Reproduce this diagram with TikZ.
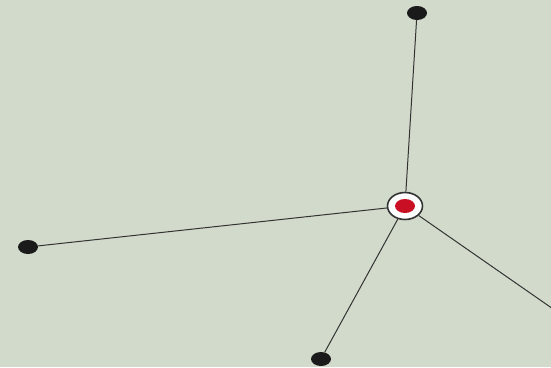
\documentclass[tikz,border=0pt]{standalone}
\usetikzlibrary{shapes.geometric}
\definecolor{bg}{HTML}{D2DBCB}
\definecolor{dotc}{HTML}{1A1A1A}
\definecolor{redc}{HTML}{C80F23}
\definecolor{linec}{HTML}{333333}
\begin{document}
\begin{tikzpicture}[x=1pt,y=-1pt,
  leaf/.style={ellipse,fill=dotc,minimum width=20pt,minimum height=14pt,inner sep=0pt},
  hub/.style={ellipse,draw=linec,line width=1.6pt,fill=white!92!bg,minimum width=35pt,minimum height=27pt,inner sep=0pt},
  core/.style={ellipse,fill=redc,minimum width=20pt,minimum height=14pt,inner sep=0pt},
  edge/.style={draw=linec,line width=1pt}]
\fill[bg] (0,0) rectangle (551,367);
\useasboundingbox (0,0) rectangle (551,367);
\node[leaf] (t) at (417,13) {};
\node[leaf] (l) at (28,247) {};
\node[leaf] (b) at (321,359) {};
\coordinate (r) at (556,311);
\node[hub] (h) at (405,206) {};
\draw[edge] (h) -- (t);
\draw[edge] (h) -- (l);
\draw[edge] (h) -- (b);
\draw[edge] (h) -- (r);
\node[core] (c) at (405,206) {};
\end{tikzpicture}
\end{document}
